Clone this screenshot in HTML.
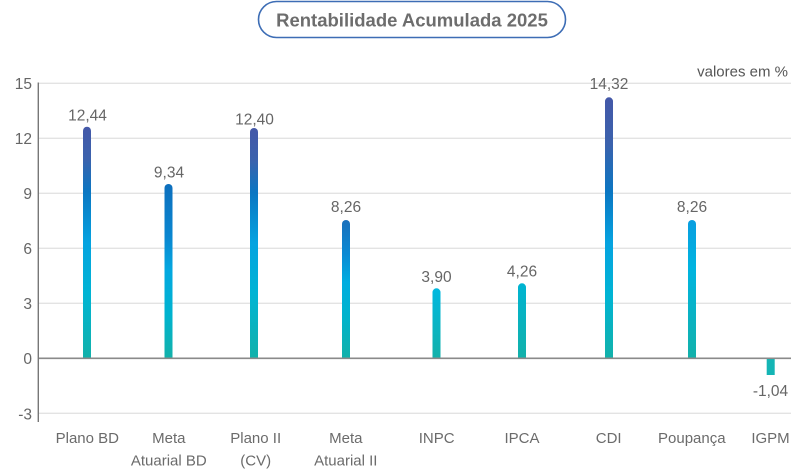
<!DOCTYPE html>
<html>
<head>
<meta charset="utf-8">
<style>
  html,body{margin:0;padding:0;background:#ffffff;}
  body{width:800px;height:472px;overflow:hidden;}
  svg{display:block;}
  text{font-family:"Liberation Sans",sans-serif;}
</style>
</head>
<body>
<svg width="800" height="472" viewBox="0 0 800 472" xmlns="http://www.w3.org/2000/svg">
  <defs>
    <linearGradient id="gBig" x1="0" y1="0" x2="0" y2="1">
      <stop offset="0" stop-color="#4458a8"/>
      <stop offset="0.14" stop-color="#3b62ad"/>
      <stop offset="0.28" stop-color="#0b76c2"/>
      <stop offset="0.50" stop-color="#05a3e0"/>
      <stop offset="0.72" stop-color="#00b4d4"/>
      <stop offset="1" stop-color="#12b1aa"/>
    </linearGradient>
    <linearGradient id="gCDI" x1="0" y1="0" x2="0" y2="1">
      <stop offset="0" stop-color="#4458a8"/>
      <stop offset="0.18" stop-color="#3b62ad"/>
      <stop offset="0.36" stop-color="#0b76c2"/>
      <stop offset="0.56" stop-color="#05a3e0"/>
      <stop offset="0.76" stop-color="#00b4d4"/>
      <stop offset="1" stop-color="#12b1aa"/>
    </linearGradient>
    <linearGradient id="gMetaBD" x1="0" y1="0" x2="0" y2="1">
      <stop offset="0" stop-color="#0d6fbd"/>
      <stop offset="0.30" stop-color="#0a86d0"/>
      <stop offset="0.50" stop-color="#03a8e0"/>
      <stop offset="0.75" stop-color="#00b3cf"/>
      <stop offset="1" stop-color="#12b1aa"/>
    </linearGradient>
    <linearGradient id="gMetaII" x1="0" y1="0" x2="0" y2="1">
      <stop offset="0" stop-color="#1a6fbb"/>
      <stop offset="0.25" stop-color="#0a8ad4"/>
      <stop offset="0.45" stop-color="#00ade0"/>
      <stop offset="0.70" stop-color="#00b3cc"/>
      <stop offset="1" stop-color="#12b1aa"/>
    </linearGradient>
    <linearGradient id="gPoup" x1="0" y1="0" x2="0" y2="1">
      <stop offset="0" stop-color="#0a9ee0"/>
      <stop offset="0.35" stop-color="#00b4e0"/>
      <stop offset="1" stop-color="#12b1aa"/>
    </linearGradient>
    <linearGradient id="gINPC" x1="0" y1="0" x2="0" y2="1">
      <stop offset="0" stop-color="#00b8e0"/>
      <stop offset="1" stop-color="#12b1aa"/>
    </linearGradient>
    <linearGradient id="gIPCA" x1="0" y1="0" x2="0" y2="1">
      <stop offset="0" stop-color="#00b4d2"/>
      <stop offset="1" stop-color="#12b1aa"/>
    </linearGradient>
  </defs>

  <!-- Title pill -->
  <rect x="258.5" y="1.5" width="307" height="36" rx="18" ry="18" fill="#ffffff" stroke="#3d6db5" stroke-width="1.6"/>
  <text x="412" y="26.5" text-anchor="middle" font-size="18.5" font-weight="bold" fill="#6d6d6d">Rentabilidade Acumulada 2025</text>

  <!-- valores em % -->
  <text x="788" y="76.5" text-anchor="end" font-size="15" fill="#555555">valores em %</text>

  <!-- gridlines -->
  <g stroke="#e3e3e3" stroke-width="1.3">
    <line x1="39" y1="83.3" x2="791" y2="83.3"/>
    <line x1="39" y1="138.3" x2="791" y2="138.3"/>
    <line x1="39" y1="193.3" x2="791" y2="193.3"/>
    <line x1="39" y1="248.3" x2="791" y2="248.3"/>
    <line x1="39" y1="303.3" x2="791" y2="303.3"/>
    <line x1="39" y1="413.3" x2="791" y2="413.3"/>
  </g>

  <!-- y axis labels -->
  <g font-size="15.5" fill="#666666" text-anchor="end">
    <text x="32" y="89">15</text>
    <text x="32" y="144">12</text>
    <text x="32" y="199">9</text>
    <text x="32" y="254">6</text>
    <text x="32" y="309">3</text>
    <text x="32" y="364">0</text>
    <text x="32" y="419.3">-3</text>
  </g>

  <!-- bars -->
  <!-- Plano BD -->
  <path d="M83 358 V130.7 a4 4 0 0 1 8 0 V358 Z" fill="url(#gBig)"/>
  <!-- Meta Atuarial BD -->
  <path d="M164.5 358 V188 a4 4 0 0 1 8 0 V358 Z" fill="url(#gMetaBD)"/>
  <!-- Plano II -->
  <path d="M250 358 V132 a4 4 0 0 1 8 0 V358 Z" fill="url(#gBig)"/>
  <!-- Meta Atuarial II -->
  <path d="M342 358 V224 a4 4 0 0 1 8 0 V358 Z" fill="url(#gMetaII)"/>
  <!-- INPC -->
  <path d="M432.5 358 V292.3 a4 4 0 0 1 8 0 V358 Z" fill="url(#gINPC)"/>
  <!-- IPCA -->
  <path d="M518 358 V287.3 a4 4 0 0 1 8 0 V358 Z" fill="url(#gIPCA)"/>
  <!-- CDI -->
  <path d="M605 358 V101.3 a4 4 0 0 1 8 0 V358 Z" fill="url(#gCDI)"/>
  <!-- Poupança -->
  <path d="M688 358 V224 a4 4 0 0 1 8 0 V358 Z" fill="url(#gPoup)"/>
  <!-- IGPM -->
  <rect x="766.7" y="358" width="8" height="17" fill="#14b5b5"/>

  <!-- zero line and y axis -->
  <line x1="38" y1="358.3" x2="791" y2="358.3" stroke="#8a8a8a" stroke-width="1.6"/>
  <line x1="38.3" y1="82.5" x2="38.3" y2="422" stroke="#777777" stroke-width="1.4"/>

  <!-- value labels -->
  <g font-size="15.5" fill="#666666" text-anchor="middle">
    <text x="87.5" y="120.7">12,44</text>
    <text x="169" y="177.3">9,34</text>
    <text x="254.5" y="124.3">12,40</text>
    <text x="346" y="212">8,26</text>
    <text x="436.5" y="282">3,90</text>
    <text x="522" y="276.5">4,26</text>
    <text x="609" y="89">14,32</text>
    <text x="692" y="212">8,26</text>
    <text x="770.5" y="396">-1,04</text>
  </g>

  <!-- category labels -->
  <g font-size="15" fill="#6b6b6b" text-anchor="middle">
    <text x="87.3" y="443">Plano BD</text>
    <text x="168.8" y="443">Meta</text>
    <text x="168.8" y="465.5">Atuarial BD</text>
    <text x="255.7" y="443">Plano II</text>
    <text x="255.7" y="465.5">(CV)</text>
    <text x="345.8" y="443">Meta</text>
    <text x="345.8" y="465.5">Atuarial II</text>
    <text x="436.7" y="443">INPC</text>
    <text x="522" y="443">IPCA</text>
    <text x="608.7" y="443">CDI</text>
    <text x="691.8" y="443">Poupança</text>
    <text x="770.5" y="443">IGPM</text>
  </g>
</svg>
</body>
</html>
